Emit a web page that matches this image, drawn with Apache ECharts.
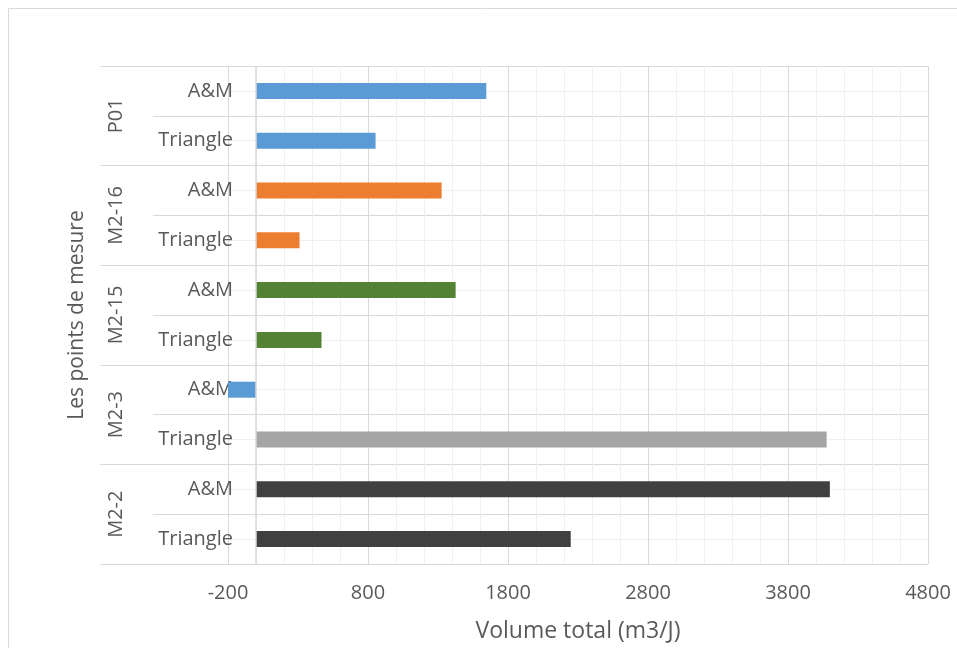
<!DOCTYPE html>
<html>
<head>
<meta charset="utf-8">
<script src="https://cdn.jsdelivr.net/npm/echarts@6/dist/echarts.min.js"></script>
<style>
  html, body { margin: 0; padding: 0; background: #ffffff; }
  #chart { width: 957px; height: 648px; }
</style>
</head>
<body>
<div id="chart"></div>
<script>
// Measurement points and the two calculation methods
const groups = ['P01', 'M2-16', 'M2-15', 'M2-3', 'M2-2'];
const methods = ['A&M', 'Triangle'];

// Total volume (m3/J) per point, one array per method
const amValues = [1645, 1326, 1426, -240, 4099];
const triangleValues = [854, 311, 468, 4076, 2248];

// Value axis range and tick step
const xMin = -200;
const xMax = 4800;
const xStep = 1000;

// Bar colours, one per point and method (A&M, Triangle)
const barColors = [
  ['#5B9BD5', '#5B9BD5'],
  ['#ED7D31', '#ED7D31'],
  ['#548235', '#548235'],
  ['#5B9BD5', '#A5A5A5'],
  ['#404040', '#404040']
];

const FONT = 'Open Sans';
const TEXT = '#595959';
const GRID_DARK = '#d9d9d9';
const GRID_LIGHT = '#f0f0f0';

const categories = [];
const barData = [];
groups.forEach(function (g, gi) {
  methods.forEach(function (m, mi) {
    categories.push(g + '|' + m);
    const v = mi === 0 ? amValues[gi] : triangleValues[gi];
    barData.push({ value: v, itemStyle: { color: barColors[gi][mi] } });
  });
});

const chart = echarts.init(document.getElementById('chart'), null, { renderer: 'canvas' });

chart.setOption({
  animation: false,
  backgroundColor: '#ffffff',
  textStyle: { fontFamily: FONT },
  graphic: [{
    type: 'rect',
    silent: true,
    shape: { x: 8.5, y: 8.5, width: 1000, height: 700 },
    style: { fill: 'none', stroke: GRID_DARK, lineWidth: 1 }
  }],
  grid: { left: 228, top: 66, width: 700, height: 499, containLabel: false },
  xAxis: {
    type: 'value',
    min: xMin,
    max: xMax,
    interval: xStep,
    axisLine: { show: false },
    axisTick: { show: false },
    axisLabel: {
      color: TEXT, fontSize: 20, fontFamily: FONT, margin: 19,
      formatter: function (v) { return String(v); }
    },
    splitLine: { show: true, lineStyle: { color: GRID_DARK, width: 1 } },
    minorTick: { show: false, splitNumber: 5 },
    minorSplitLine: { show: true, lineStyle: { color: GRID_LIGHT, width: 1 } },
    name: 'Volume total (m3/J)',
    nameLocation: 'middle',
    nameGap: 56,
    nameTextStyle: { color: TEXT, fontSize: 23, fontFamily: FONT }
  },
  yAxis: [
    {
      // method labels (inner level)
      type: 'category',
      data: categories,
      inverse: true,
      position: 'left',
      axisLine: { show: false, onZero: false },
      axisTick: { show: true, length: 75, interval: 0, lineStyle: { color: GRID_DARK } },
      axisLabel: {
        color: TEXT, fontSize: 20, fontFamily: FONT, margin: -5, interval: 0,
        formatter: function (v) { return v.split('|')[1]; }
      },
      splitLine: { show: true, interval: 0, lineStyle: { color: GRID_DARK, width: 1 } }
    },
    {
      // measurement point labels (outer level)
      type: 'category',
      data: groups,
      inverse: true,
      position: 'left',
      axisLine: { show: false, onZero: false },
      axisTick: { show: true, length: 128, interval: 0, lineStyle: { color: GRID_DARK } },
      axisLabel: { color: TEXT, fontSize: 20, fontFamily: FONT, rotate: 90, margin: 102, interval: 0 },
      splitLine: { show: false },
      name: 'Les points de mesure',
      nameLocation: 'middle',
      nameGap: 140,
      nameRotate: 90,
      nameTextStyle: { color: TEXT, fontSize: 21, fontFamily: FONT }
    },
    {
      // light guide lines through the middle of each category
      type: 'value',
      min: 0,
      max: categories.length,
      interval: 1,
      position: 'left',
      axisLine: { show: false },
      axisTick: { show: false },
      axisLabel: { show: false },
      splitLine: { show: false },
      minorTick: { show: false, splitNumber: 2 },
      minorSplitLine: { show: true, lineStyle: { color: GRID_LIGHT, width: 1 } }
    }
  ],
  series: [{
    type: 'bar',
    yAxisIndex: 0,
    data: barData,
    barWidth: 16,
    clip: true,
    markLine: {
      silent: true,
      symbol: 'none',
      label: { show: false },
      lineStyle: { color: GRID_DARK, width: 1.5, type: 'solid' },
      data: [{ xAxis: 0 }]
    }
  }]
});
</script>
</body>
</html>
